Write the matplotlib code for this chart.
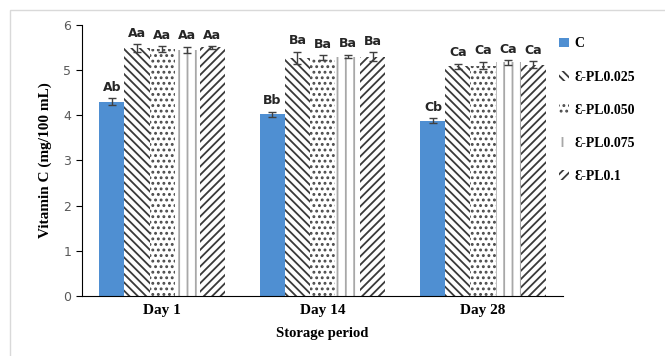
import numpy as np
import matplotlib.pyplot as plt
from matplotlib.patches import Rectangle

days = ['Day 1', 'Day 14', 'Day 28']
series = ['C', 'Ɛ-PL0.025', 'Ɛ-PL0.050', 'Ɛ-PL0.075', 'Ɛ-PL0.1']

# vitamin C, one row per series
vals = [
    [4.30, 4.02, 3.88],
    [5.48, 5.27, 5.08],
    [5.47, 5.28, 5.10],
    [5.45, 5.30, 5.17],
    [5.50, 5.30, 5.12],
]
errs = [
    [0.08, 0.06, 0.05],
    [0.09, 0.13, 0.06],
    [0.06, 0.05, 0.08],
    [0.07, 0.04, 0.05],
    [0.03, 0.09, 0.08],
]
letters = [
    ['Ab', 'Bb', 'Cb'],
    ['Aa', 'Ba', 'Ca'],
    ['Aa', 'Ba', 'Ca'],
    ['Aa', 'Ba', 'Ca'],
    ['Aa', 'Ba', 'Ca'],
]

faces = ['#4f8fd2', 'white', 'white', 'white', 'white']
edges = ['#4f8fd2', '#3a3a3a', '#4a4a4a', '#a8a8a8', '#3a3a3a']
hatches = ['', '\\\\\\\\', '...', '||', '////']

plt.rcParams['hatch.linewidth'] = 1.3

fig = plt.figure(figsize=(6.65, 3.56), dpi=100)
fig.patches.append(Rectangle((10 / 665, -0.1), 1.1, 1 - 10 / 356 + 0.1,
                             transform=fig.transFigure, fill=False,
                             edgecolor='#d9d9d9', lw=1))
ax = fig.add_axes([0.123, 0.169, 0.724, 0.761])

x = np.arange(len(days))
w = 0.156
for i in range(len(series)):
    pos = x + (i - 2) * w
    ax.bar(pos, vals[i], w, color=faces[i], edgecolor=edges[i], linewidth=0,
           hatch=hatches[i], label=series[i])
    ax.errorbar(pos, vals[i], yerr=errs[i], fmt='none', ecolor='#404040',
                elinewidth=1, capsize=3, capthick=1)
    for p, v, e, t in zip(pos, vals[i], errs[i], letters[i]):
        ax.text(p, v + e + 0.1, t, ha='center', va='bottom', fontsize=9,
                fontweight='bold', color='#262626', family='DejaVu Sans',
                clip_on=False)

ax.set_xlim(-0.5, 2.5)
ax.set_ylim(0, 6)
ax.set_yticks(range(7))
ax.set_xticks(x)
ax.set_xticklabels(days, family='Liberation Serif', fontweight='bold', fontsize=11)
ax.tick_params(axis='x', length=0, pad=6)
ax.tick_params(axis='y', labelsize=9, labelcolor='#595959', length=4)
ax.spines['top'].set_visible(False)
ax.spines['right'].set_visible(False)
ax.set_ylabel('Vitamin C (mg/100 mL)', family='Liberation Serif',
              fontweight='bold', fontsize=11, labelpad=8)
ax.set_xlabel('Storage period', family='Liberation Serif',
              fontweight='bold', fontsize=10.5, labelpad=7)

fig.legend(loc='upper left', bbox_to_anchor=(0.822, 0.93), frameon=False,
           prop={'family': ['Liberation Serif', 'DejaVu Serif'],
                 'weight': 'bold', 'size': 10},
           handlelength=0.7, handleheight=0.7, handletextpad=0.4,
           labelspacing=1.45)

fig.savefig('out.png', dpi=100)
